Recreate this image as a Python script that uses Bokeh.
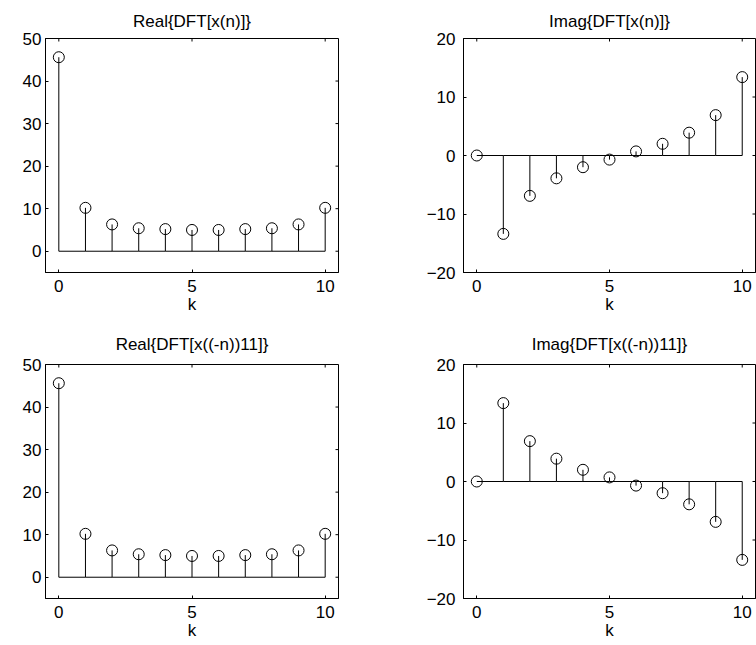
import math
from bokeh.plotting import figure
from bokeh.layouts import gridplot
from bokeh.models import FixedTicker, Range1d
from bokeh.embed import file_html
from bokeh.resources import INLINE

k = [0, 1, 2, 3, 4, 5, 6, 7, 8, 9, 10]
real_x = [45.6, 10.2, 6.3, 5.4, 5.2, 5.0, 5.0, 5.2, 5.4, 6.3, 10.2]
imag_x = [0.0, -13.4, -6.9, -3.9, -2.0, -0.7, 0.7, 2.0, 3.9, 6.9, 13.4]
real_xr = [45.6, 10.2, 6.3, 5.4, 5.2, 5.0, 5.0, 5.2, 5.4, 6.3, 10.2]
imag_xr = [0.0, 13.4, 6.9, 3.9, 2.0, 0.7, -0.7, -2.0, -3.9, -6.9, -13.4]

titles = ["Real{DFT[x(n)]}", "Imag{DFT[x(n)]}",
          "Real{DFT[x((-n))11]}", "Imag{DFT[x((-n))11]}"]
x_label = "k"
x_ticks = [0, 5, 10]
real_ticks = [0, 10, 20, 30, 40, 50]
imag_ticks = [-20, -10, 0, 10, 20]
real_range = (-5, 50)
imag_range = (-20, 20)
x_range = (-0.5, 10.5)

FONT = "Liberation Sans"
TICK = 3


def make(title, yvals, yticks, yrange, width, height, bl, br, bt, bb, ystand,
         tstand):
    p = figure(width=width, height=height, output_backend="svg",
               toolbar_location=None, x_range=Range1d(*x_range),
               y_range=Range1d(*yrange), min_border_left=bl,
               min_border_right=br, min_border_top=bt, min_border_bottom=bb)
    p.title.text = title
    p.title.align = "center"
    p.title.text_font = FONT
    p.title.text_font_size = "17px"
    p.title.text_font_style = "normal"
    p.title.text_color = "black"
    p.title.standoff = tstand
    p.grid.visible = False
    p.outline_line_color = "black"
    p.outline_line_width = 1
    p.outline_line_alpha = 1
    p.background_fill_color = "white"
    p.border_fill_color = "white"

    p.xaxis.ticker = FixedTicker(ticks=x_ticks)
    p.yaxis.ticker = FixedTicker(ticks=yticks)
    p.xaxis.axis_label = x_label
    overrides = {t: (str(t).replace("-", "\u2212")) for t in yticks}
    p.yaxis.major_label_overrides = overrides
    for ax in (p.xaxis[0], p.yaxis[0]):
        ax.major_tick_in = TICK
        ax.major_tick_out = 0
        ax.minor_tick_line_color = None
        ax.axis_line_color = "black"
        ax.major_tick_line_color = "black"
        ax.major_label_text_font = FONT
        ax.major_label_text_font_size = "17px"
        ax.major_label_text_color = "black"
        ax.axis_label_text_font = FONT
        ax.axis_label_text_font_size = "17px"
        ax.axis_label_text_font_style = "normal"
        ax.axis_label_text_color = "black"
    p.xaxis.major_label_standoff = 7
    p.xaxis.axis_label_standoff = 0
    p.yaxis.major_label_standoff = ystand

    # inward ticks on the top and right edges of the box
    p.ray(x=x_ticks, y=[yrange[1]] * len(x_ticks), length=TICK,
          length_units="screen", angle=-math.pi / 2, line_color="black",
          line_width=1)
    p.ray(x=[x_range[1]] * len(yticks), y=yticks, length=TICK,
          length_units="screen", angle=math.pi, line_color="black",
          line_width=1)

    p.line(k, [0] * len(k), line_color="black", line_width=1)
    p.segment(x0=k, y0=[0] * len(k), x1=k, y1=yvals, line_color="black",
              line_width=1)
    p.scatter(k, yvals, marker="circle", size=11, fill_color=None,
              line_color="black", line_width=1)
    return p


p1 = make(titles[0], real_x, real_ticks, real_range, 400, 320, 45, 62, 38, 48, 4, 16)
p2 = make(titles[1], imag_x, imag_ticks, imag_range, 356, 320, 63, 1, 38, 48, 8, 16)
p3 = make(titles[2], real_xr, real_ticks, real_range, 400, 322, 45, 62, 44, 44, 4, 22)
p4 = make(titles[3], imag_xr, imag_ticks, imag_range, 356, 322, 63, 1, 44, 44, 8, 22)

grid = gridplot([[p1, p2], [p3, p4]], toolbar_location=None)
open("out.html", "w").write(file_html(grid, INLINE))
